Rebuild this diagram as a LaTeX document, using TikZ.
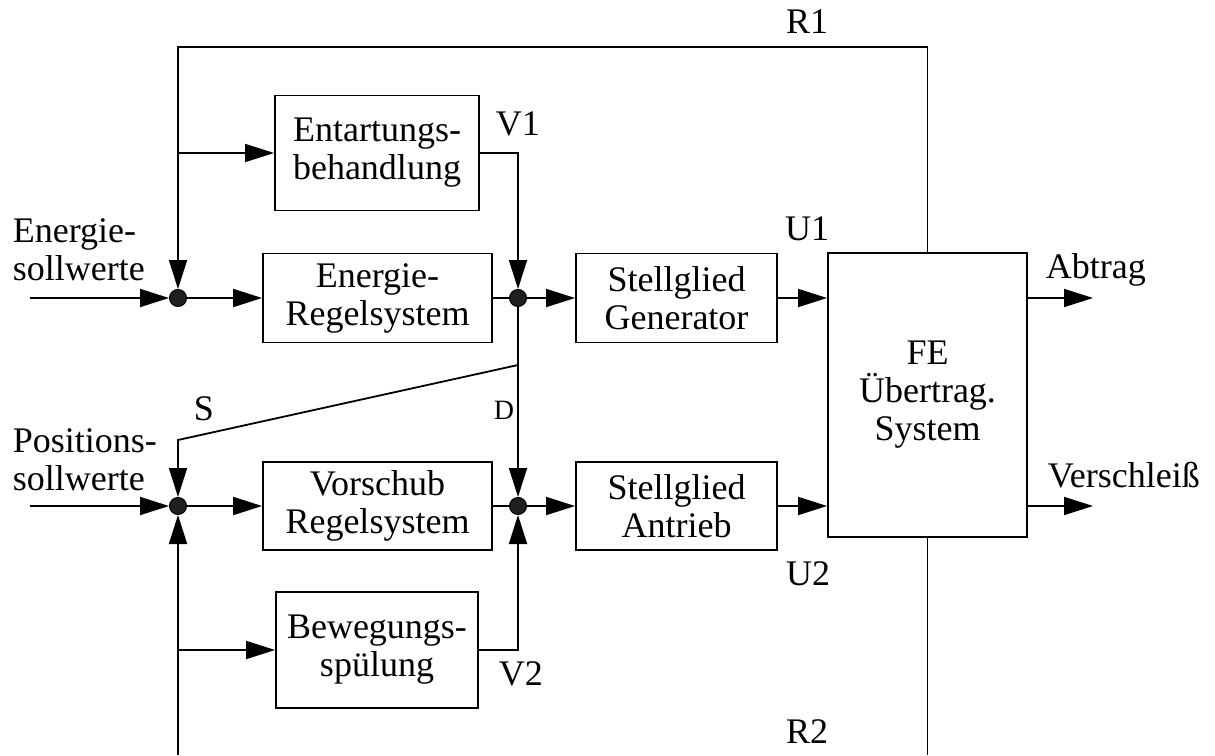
\documentclass[tikz,border=0pt]{standalone}
\usepackage{fontspec}
\setmainfont{Liberation Serif}
\usetikzlibrary{arrows.meta}
\begin{document}
\begin{tikzpicture}[x=0.5pt,y=-0.5pt,line width=0.9pt,
    every node/.style={font=\fontsize{18}{19}\selectfont},
    arr/.style={-{Triangle[length=14.5pt,width=9pt]}},
    block/.style={draw,align=center,inner sep=0pt},
    knot/.style={circle,fill=black!88,draw=black,line width=0.5pt,minimum size=8.5pt,inner sep=0pt}]
    \useasboundingbox (0,0) rectangle (1215,755);

    % Bloecke
    \node[block,minimum width=102pt,minimum height=57.5pt] (ent) at (377,153) {Entartungs-\\behandlung};
    \node[block,minimum width=114.5pt,minimum height=44.5pt] (ereg) at (377.5,298) {Energie-\\Regelsystem};
    \node[block,minimum width=100.5pt,minimum height=44.5pt] (gen) at (676.5,298) {Stellglied\\Generator};
    \node[block,minimum width=99.5pt,minimum height=142pt] (fe) at (927.5,395) {FE\\Übertrag.\\System};
    \node[block,minimum width=114.5pt,minimum height=44pt] (vreg) at (377.5,506) {Vorschub\\Regelsystem};
    \node[block,minimum width=100.5pt,minimum height=44pt] (ant) at (676.5,506) {Stellglied\\Antrieb};
    \node[block,minimum width=101pt,minimum height=58pt] (bew) at (377,650) {Bewegungs-\\spülung};

    % Verzweigungspunkte
    \node[knot] (d1) at (178,298) {};
    \node[knot] (d2) at (518,298) {};
    \node[knot] (d3) at (178,506) {};
    \node[knot] (d4) at (518,506) {};

    \coordinate (r1) at (178,47);
    \coordinate (r2) at (178,755);
    \coordinate (in1) at (30,298);
    \coordinate (in2) at (30,506);
    \coordinate (out1) at (1093,298);
    \coordinate (out2) at (1093,506);
    \coordinate (k) at (518,365);
    \coordinate (sc) at (178,440);

    % Energiezweig
    \draw[arr] (fe.north) |- (r1) -- (d1);
    \draw[arr] (r1 |- ent.west) -- (ent.west);
    \draw[arr] (ent.east) -| (d2);
    \draw[arr] (in1) -- (d1);
    \draw[arr] (d1) -- (ereg);
    \draw (ereg) -- (d2);
    \draw[arr] (d2) -- (gen);
    \draw[arr] (gen.east) -- (gen.east -| fe.west);
    \draw[arr] (fe.east |- d1) -- (out1);

    % Umschaltung
    \draw[arr] (d2) -- (d4);
    \draw[arr] (k) -- (sc) -- (d3);

    % Positionszweig
    \draw[arr] (in2) -- (d3);
    \draw[arr] (d3) -- (vreg);
    \draw (vreg) -- (d4);
    \draw[arr] (d4) -- (ant);
    \draw[arr] (ant.east) -- (ant.east -| fe.west);
    \draw[arr] (fe.east |- d4) -- (out2);
    \draw[arr] (r2) -- (d3);
    \draw[arr] (r2 |- bew.west) -- (bew.west);
    \draw[arr] (bew.east) -| (d4);
    \draw (fe.south) -- (fe.south |- r2);

    % Beschriftungen
    \node[align=left,anchor=west,inner sep=0pt] (esoll) at (12,250) {Energie-\\sollwerte};
    \node[align=left,anchor=west,inner sep=0pt] (psoll) at (12,460) {Positions-\\sollwerte};
    \node[anchor=base,inner sep=0pt] (r1lab) at (807,33) {R1};
    \node[anchor=base,inner sep=0pt] (u1lab) at (807,240) {U1};
    \node[anchor=base,inner sep=0pt] (u2lab) at (808,585) {U2};
    \node[anchor=base,inner sep=0pt] (r2lab) at (807,743) {R2};
    \node[anchor=base west,inner sep=0pt] (v1lab) at (495,135) {V1};
    \node[anchor=base west,inner sep=0pt] (v2lab) at (498,685) {V2};
    \node[anchor=base west,inner sep=0pt] (slab) at (193,420) {S};
    \node[anchor=base west,inner sep=0pt,font=\fontsize{14}{16}\selectfont] (dlab) at (493,419) {D};
    \node[anchor=base west,inner sep=0pt] (abtrag) at (1045,278) {Abtrag};
    \node[anchor=base west,inner sep=0pt] (versch) at (1047,487) {Verschleiß};
\end{tikzpicture}
\end{document}
